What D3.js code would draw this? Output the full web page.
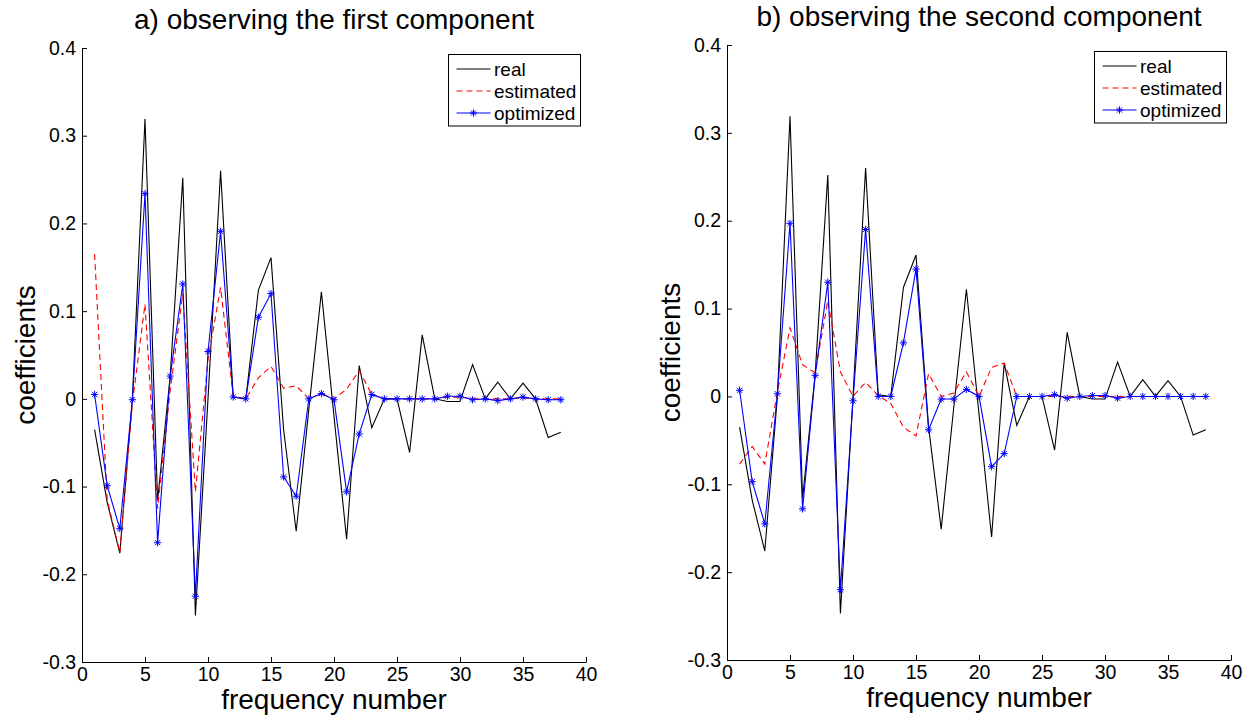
<!DOCTYPE html>
<html>
<head>
<meta charset="utf-8">
<script src="https://cdn.jsdelivr.net/npm/d3@7"></script>
<style>
body { margin: 0; background: #fff; }
text { font-family: "Liberation Sans", Arial, Helvetica, sans-serif; }
</style>
</head>
<body>
<svg width="1246" height="719"></svg>
<script>
// frequency numbers 1..38
var freq = [1,2,3,4,5,6,7,8,9,10,11,12,13,14,15,16,17,18,19,20,21,22,23,24,25,26,27,28,29,30,31,32,33,34,35,36,37,38];

// real coefficients (same in both panels)
var real = [-0.035, -0.118, -0.176, 0.0, 0.319, -0.116, 0.026, 0.252, -0.247, 0.0,
            0.26, 0.002, 0.0, 0.124, 0.161, -0.035, -0.151, -0.012, 0.122, -0.02,
            -0.16, 0.038, -0.033, 0.0, 0.0, -0.061, 0.073, 0.0, -0.003, -0.003,
            0.039, 0.0, 0.019, 0.0, 0.018, 0.0, -0.044, -0.038];

// a) observing the first component
var estimatedA = [0.165, -0.115, -0.175, -0.005, 0.108, -0.125, 0.01, 0.12, -0.106, 0.045,
                  0.127, 0.003, 0.0, 0.024, 0.037, 0.012, 0.015, 0.0, 0.006, 0.0,
                  0.011, 0.032, 0.005, 0.0, 0.0, 0.0, 0.0, 0.0, 0.002, 0.002,
                  0.0, 0.0, 0.0, 0.0, 0.001, 0.0, 0.0, 0.0];
var optimizedA = [0.005, -0.099, -0.148, -0.001, 0.234, -0.164, 0.026, 0.131, -0.225, 0.054,
                  0.191, 0.002, 0.0, 0.093, 0.12, -0.089, -0.111, 0.0, 0.006, -0.001,
                  -0.106, -0.04, 0.005, 0.0, 0.0, 0.0, 0.0, 0.0, 0.003, 0.003,
                  -0.001, 0.0, -0.002, 0.0, 0.002, 0.0, -0.001, -0.001];

// b) observing the second component
var estimatedB = [-0.077, -0.057, -0.077, 0.005, 0.078, 0.036, 0.027, 0.109, 0.028, 0.0,
                  0.016, 0.001, -0.008, -0.035, -0.045, 0.026, 0.0, 0.004, 0.028, 0.0,
                  0.033, 0.038, 0.0, 0.0, 0.0, 0.0, 0.0, 0.0, 0.0, 0.0,
                  0.0, 0.0, 0.0, 0.0, 0.0, 0.0, 0.0, 0.0];
var optimizedB = [0.007, -0.097, -0.145, 0.003, 0.197, -0.128, 0.024, 0.13, -0.22, -0.005,
                  0.19, 0.0, 0.0, 0.061, 0.145, -0.038, -0.003, -0.003, 0.008, 0.0,
                  -0.08, -0.065, 0.0, 0.0, 0.0, 0.002, -0.002, 0.0, 0.001, 0.001,
                  -0.002, 0.0, 0.0, 0.0, 0.0, 0.0, 0.0, 0.0];

var titles = ["a) observing the first component", "b) observing the second component"];
var seriesNames = ["real", "estimated", "optimized"];
var xTicks = [0, 5, 10, 15, 20, 25, 30, 35, 40];
var yTicks = [-0.3, -0.2, -0.1, 0, 0.1, 0.2, 0.3, 0.4];

var panels = [
    {left: 82, right: 586, top: 48, bottom: 662, title: titles[0], est: estimatedA, opt: optimizedA, lx: 448.5, ly: 54.5},
    {left: 727, right: 1231, top: 45, bottom: 660, title: titles[1], est: estimatedB, opt: optimizedB, lx: 1094.5, ly: 51.5}
];

var svg = d3.select("svg");

function starPath(cx, cy) {
    var r = 3.6, d = 2.6;
    return "M" + (cx - r) + "," + cy + "H" + (cx + r) +
           "M" + cx + "," + (cy - r) + "V" + (cy + r) +
           "M" + (cx - d) + "," + (cy - d) + "L" + (cx + d) + "," + (cy + d) +
           "M" + (cx - d) + "," + (cy + d) + "L" + (cx + d) + "," + (cy - d);
}

function yFormat(d) {
    return d == 0 ? "0" : d.toFixed(1);
}

function drawPanel(p) {
    var x = d3.scaleLinear([0, 40], [p.left, p.right]);
    var y = d3.scaleLinear([-0.3, 0.4], [p.bottom, p.top]);
    var g = svg.append("g");

    var line = d3.line()
        .x(function(d, i) { return x(freq[i]); })
        .y(function(d) { return y(d); });

    g.append("path").attr("d", line(real))
        .attr("fill", "none").attr("stroke", "#000").attr("stroke-width", 1.1);
    g.append("path").attr("d", line(p.est))
        .attr("fill", "none").attr("stroke", "#ff0000").attr("stroke-width", 1.1)
        .attr("stroke-dasharray", "6,4");
    g.append("path").attr("d", line(p.opt))
        .attr("fill", "none").attr("stroke", "#0000ff").attr("stroke-width", 1.1);
    g.append("g").selectAll("path")
        .data(p.opt)
        .enter()
            .append("path")
            .attr("d", function(d, i) { return starPath(x(freq[i]), y(d)); })
            .attr("fill", "none")
            .attr("stroke", "#0000ff")
            .attr("stroke-width", 1);

    g.append("g")
        .attr("transform", "translate(0," + p.bottom + ")")
        .call(d3.axisBottom(x).tickValues(xTicks).tickSizeInner(-5).tickSizeOuter(0).tickPadding(5).tickFormat(d3.format("d")));
    g.append("g")
        .attr("transform", "translate(" + p.left + ",0)")
        .call(d3.axisLeft(y).tickValues(yTicks).tickSizeInner(-5).tickSizeOuter(0).tickPadding(6).tickFormat(yFormat));
    g.selectAll(".tick text")
        .attr("font-size", 19.5)
        .attr("font-family", "Liberation Sans, Arial, sans-serif")
        .attr("fill", "#000");

    g.append("text")
        .attr("x", (p.left + p.right) / 2)
        .attr("y", p.top - 19)
        .attr("text-anchor", "middle")
        .attr("font-size", 28)
        .text(p.title);
    g.append("text")
        .attr("x", (p.left + p.right) / 2)
        .attr("y", p.bottom + 47)
        .attr("text-anchor", "middle")
        .attr("font-size", 28)
        .text("frequency number");
    g.append("text")
        .attr("transform", "translate(" + (p.left - 47) + "," + ((p.top + p.bottom) / 2) + ") rotate(-90)")
        .attr("text-anchor", "middle")
        .attr("font-size", 28)
        .text("coefficients");

    // legend
    var lg = g.append("g").attr("transform", "translate(" + p.lx + "," + p.ly + ")");
    lg.append("rect")
        .attr("width", 132).attr("height", 71.5)
        .attr("fill", "#fff").attr("stroke", "#000").attr("stroke-width", 1);
    var styles = [
        {color: "#000", dash: null},
        {color: "#ff0000", dash: "6,4"},
        {color: "#0000ff", dash: null}
    ];
    var rows = lg.selectAll("g.entry")
        .data(seriesNames)
        .enter()
            .append("g")
            .attr("class", "entry")
            .attr("transform", function(d, i) { return "translate(0," + (14.5 + i * 22) + ")"; });
    rows.append("line")
        .attr("x1", 8).attr("x2", 42).attr("y1", 0).attr("y2", 0)
        .attr("stroke", function(d, i) { return styles[i].color; })
        .attr("stroke-width", 1.1)
        .attr("stroke-dasharray", function(d, i) { return styles[i].dash; });
    rows.filter(function(d, i) { return i == 2; })
        .append("path")
        .attr("d", starPath(25, 0))
        .attr("fill", "none").attr("stroke", "#0000ff").attr("stroke-width", 1);
    rows.append("text")
        .attr("x", 45.5)
        .attr("dy", "0.35em")
        .attr("font-size", 19)
        .text(function(d) { return d; });
}

panels.forEach(drawPanel);
</script>
</body>
</html>
